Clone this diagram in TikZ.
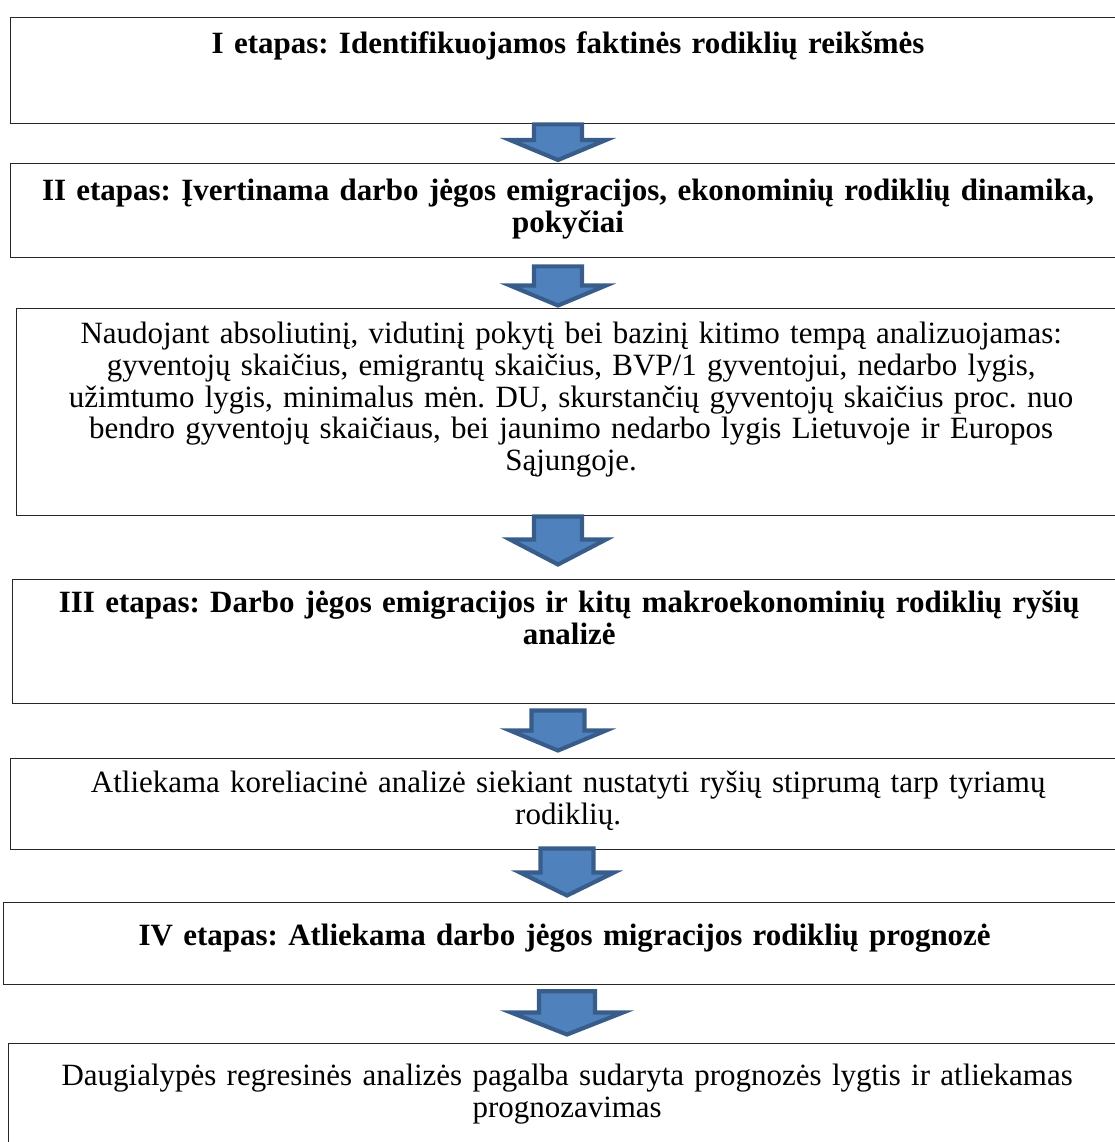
\documentclass[tikz,border=0pt]{standalone}
\usepackage{fontspec}
\setmainfont{Liberation Serif}
\usetikzlibrary{calc}
\definecolor{arrblue}{RGB}{79,129,189}
\definecolor{arrdark}{RGB}{56,93,138}
\tikzset{arrshaft/.store in=\arrshaft, arrhead/.store in=\arrhead,
  arrtip/.store in=\arrtip, arrstart/.store in=\arrstart, arrgap/.store in=\arrgap,
  arrshaft=24, arrhead=48, arrtip=20, arrstart=0, arrgap=3}
\frenchspacing

\begin{document}
\begin{tikzpicture}[x=0.436pt,y=-0.436pt]
  \tikzstyle{stage}=[draw=black!85, line width=0.6pt, anchor=north west, inner sep=0pt,
    align=center, font=\fontsize{13.5}{13.8}\selectfont]
  \tikzstyle{stagearrow}=[fill=arrblue, draw=arrdark, line width=1.8pt, line join=miter,
    to path={($(\tikztostart)+(-\arrshaft,\arrstart)$) -- ($(\tikztostart)+(\arrshaft,\arrstart)$)
      -- ($(\tikztotarget)+(\arrshaft,-\arrgap-\arrtip)$) -- ($(\tikztotarget)+(\arrhead,-\arrgap-\arrtip)$)
      -- ($(\tikztotarget)+(0,-\arrgap)$) -- ($(\tikztotarget)+(-\arrhead,-\arrgap-\arrtip)$)
      -- ($(\tikztotarget)+(-\arrshaft,-\arrgap-\arrtip)$) -- cycle}]

  \clip[use as bounding box] (0,0) rectangle (1115,1142);

  % stages
  \node[stage, text width=486.1pt, text height=15.7pt, text depth=30.5pt] (b1) at (10,17)
    {\bfseries I etapas: Identifikuojamos faktinės rodiklių reikšmės};
  \node[stage, text width=486.1pt, text height=16.1pt, text depth=24.9pt] (b2) at (10,163)
    {\bfseries II etapas: Įvertinama darbo jėgos emigracijos, ekonominių rodiklių dinamika,\\
     \bfseries pokyčiai};
  \node[stage, text width=483.5pt, text height=15.3pt, text depth=75pt] (b3) at (16,308)
    {Naudojant absoliutinį, vidutinį pokytį bei bazinį kitimo tempą analizuojamas:\\
     gyventojų skaičius, emigrantų skaičius, BVP/1 gyventojui, nedarbo lygis,\\
     užimtumo lygis, minimalus mėn. DU, skurstančių gyventojų skaičius proc. nuo\\
     bendro gyventojų skaičiaus, bei jaunimo nedarbo lygis Lietuvoje ir Europos\\
     Sąjungoje.};
  \node[stage, text width=485.3pt, text height=14.4pt, text depth=39.7pt] (b4) at (12,579)
    {\bfseries III etapas: Darbo jėgos emigracijos ir kitų makroekonominių rodiklių ryšių\\
     \bfseries analizė};
  \node[stage, text width=486.1pt, text height=14.8pt, text depth=24.9pt] (b5) at (10,758)
    {Atliekama koreliacinė analizė siekiant nustatyti ryšių stiprumą tarp tyriamų\\
     rodiklių.};
  \node[stage, text width=489.2pt, text height=18.7pt, text depth=17pt] (b6) at (3,902)
    {\bfseries IV etapas: Atliekama darbo jėgos migracijos rodiklių prognozė};
  \node[stage, text width=487pt, text height=18.3pt, text depth=28.3pt] (b7) at (8,1043)
    {Daugialypės regresinės analizės pagalba sudaryta prognozės lygtis ir atliekamas\\
     prognozavimas};

  % arrows
  \coordinate (ax) at (558,0);
  \coordinate (bx) at (567,0);
  \path[stagearrow] (b1.south -| ax) to (b2.north -| ax);
  \path[stagearrow, arrstart=8, arrgap=2.5] (b2.south -| ax) to (b3.north -| ax);
  \path[stagearrow, arrgap=14.5, arrtip=25] (b3.south -| ax) to (b4.north -| ax);
  \path[stagearrow, arrstart=6, arrgap=7.5, arrshaft=26.5] (b4.south -| ax) to (b5.north -| ax);
  \path[stagearrow, arrstart=-2, arrgap=6.5, arrtip=23, arrshaft=26.5, arrhead=47] (b5.south -| bx) to (b6.north -| bx);
  \path[stagearrow, arrstart=6, arrgap=8.5, arrtip=22, arrshaft=28, arrhead=56] (b6.south -| bx) to (b7.north -| bx);
\end{tikzpicture}
\end{document}
